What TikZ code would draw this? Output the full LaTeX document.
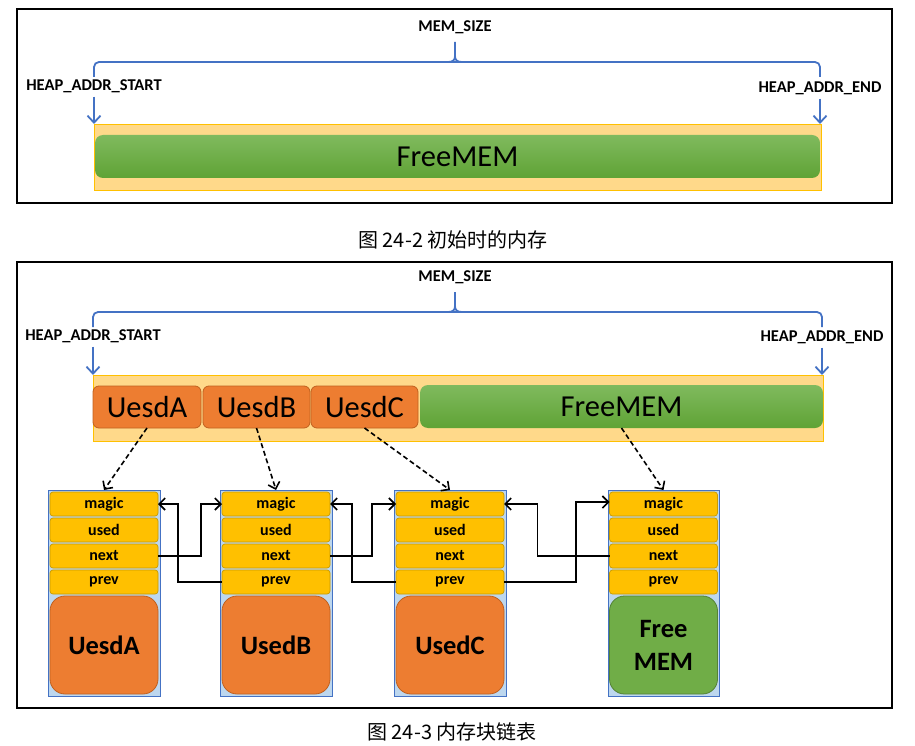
\documentclass[tikz,border=0pt]{standalone}
\usepackage{fontspec}
\setmainfont{Carlito}
\newfontfamily\cjk{Noto Sans CJK SC}
\usetikzlibrary{arrows.meta}
\definecolor{bluel}{HTML}{4472C4}
\definecolor{bandfill}{HTML}{FFD98A}
\definecolor{bandborder}{HTML}{FFC000}
\definecolor{orangef}{HTML}{ED7D31}
\definecolor{oranged}{HTML}{C0611F}
\definecolor{greenf}{HTML}{70AD47}
\definecolor{greentop}{HTML}{80BA5E}
\definecolor{greenbot}{HTML}{5FA335}
\definecolor{greend}{HTML}{548235}
\definecolor{fieldf}{HTML}{FFC000}
\definecolor{fieldd}{HTML}{C89B00}
\definecolor{holderf}{HTML}{BDD7EE}
\begin{document}
\begin{tikzpicture}[x=1pt,y=-1pt,
  every node/.style={inner sep=0pt, outer sep=0pt},
  frame/.style={draw=black, line width=2pt},
  lbl/.style={font=\bfseries\fontsize{16.5}{19}\selectfont},
  bline/.style={draw=bluel, line width=1.8pt},
  barrow/.style={bline, -{Straight Barb[length=7pt,width=13pt]}},
  band/.style={fill=bandfill, draw=bandborder, line width=0.8pt},
  usedtop/.style={fill=orangef, draw=oranged, line width=0.8pt, rounded corners=6pt, minimum height=42pt, font=\fontsize{30.5}{36}\selectfont},
  freetop/.style={top color=greentop, bottom color=greenbot, draw=none, rounded corners=8pt, font=\fontsize{30.5}{36}\selectfont},
  holder/.style={fill=holderf, draw=bluel, line width=0.9pt, minimum width=112pt, minimum height=206pt},
  field/.style={fill=fieldf, draw=fieldd, line width=0.7pt, rounded corners=3pt, minimum width=108pt, minimum height=24pt, font=\bfseries\fontsize{16}{19}\selectfont},
  bigused/.style={fill=orangef, draw=oranged, line width=0.8pt, rounded corners=15pt, minimum width=108pt, minimum height=98pt, align=center, font=\bfseries\fontsize{26.5}{33}\selectfont},
  bigfree/.style={fill=greenf, draw=greend, line width=0.8pt, rounded corners=15pt, minimum width=108pt, minimum height=98pt, align=center, font=\bfseries\fontsize{26.5}{33}\selectfont},
  ptr/.style={draw=black, line width=1.6pt, dash pattern=on 5pt off 3pt, -{Straight Barb[length=6pt,width=12pt]}},
  link/.style={draw=black, line width=1.6pt, -{Straight Barb[length=6pt,width=12pt]}},
  captext/.style={font=\cjk\fontsize{20}{24}\selectfont}
]
\useasboundingbox (0,0) rectangle (915,746);

% ===== Figure 24-2 =====
\node[frame, minimum width=875pt, minimum height=194pt] (fr1) at (454.5,106) {};
\node[lbl] (ms1) at (455,27) {MEM\_SIZE};
\node[lbl] (hs1) at (94,86) {HEAP\_ADDR\_START};
\node[lbl] (he1) at (820,88) {HEAP\_ADDR\_END};
\draw[bline, rounded corners=5pt] (94,77) |- (455,62) -| (820,77);
\draw[bline] (448,62) .. controls (453,62) and (455,60) .. (455,56) -- (455,42);
\draw[bline] (462,62) .. controls (457,62) and (455,60) .. (455,56);
\node[band, minimum width=727pt, minimum height=66pt] (band1) at (457.5,157) {};
\node[freetop, minimum width=725pt, minimum height=43pt] (free1) at (457.5,156.5) {FreeMEM};
\draw[barrow] (hs1.south) ++(0,4) -- (band1.north west);
\draw[barrow] (he1.south) ++(0,4) -- (he1.south |- band1.north);

\node[captext] (c1) at (453,240) {图 24-2 初始时的内存};

% ===== Figure 24-3 =====
\node[frame, minimum width=875pt, minimum height=446pt] (fr2) at (454.5,485) {};
\node[lbl] (ms2) at (455,277) {MEM\_SIZE};
\node[lbl] (hs2) at (93,336) {HEAP\_ADDR\_START};
\node[lbl] (he2) at (822,337) {HEAP\_ADDR\_END};
\draw[bline, rounded corners=5pt] (93,327) |- (455,312) -| (822,327);
\draw[bline] (448,312) .. controls (453,312) and (455,310) .. (455,306) -- (455,292);
\draw[bline] (462,312) .. controls (457,312) and (455,310) .. (455,306);
\node[band, minimum width=730pt, minimum height=66pt] (band2) at (458,408) {};
\node[usedtop, minimum width=108pt] (ua) at (147,407) {UesdA};
\node[usedtop, minimum width=107pt] (ub) at (256.5,407) {UesdB};
\node[usedtop, minimum width=107pt] (uc) at (364.5,407) {UesdC};
\node[freetop, minimum width=403pt, minimum height=43pt] (fm) at (621.5,406.5) {FreeMEM};
\draw[barrow] (hs2.south) ++(0,4) -- (band2.north west);
\draw[barrow] (he2.south) ++(0,4) -- (he2.south |- band2.north);

% block holders
\node[holder] (h1) at (104,593) {};
\node[holder] (h2) at (276,593) {};
\node[holder] (h3) at (450,593) {};
\node[holder, minimum width=111pt] (h4) at (663.5,593) {};

% fields
\foreach \i/\x in {1/104, 2/276, 3/450, 4/663.5} {
  \node[field] (m\i) at (\x,504) {magic};
  \node[field] (u\i) at (\x,530) {used};
  \node[field] (n\i) at (\x,556) {next};
  \node[field] (p\i) at (\x,582) {prev};
}
\node[bigused] (b1) at (104,645) {UesdA};
\node[bigused] (b2) at (276,645) {UsedB};
\node[bigused] (b3) at (450,645) {UsedC};
\node[bigfree] (b4) at (663.5,645) {Free\\MEM};

% pointers from top blocks
\draw[ptr] (ua.south) -- (h1.north);
\draw[ptr] (ub.south) -- (h2.north);
\draw[ptr] (uc.south) -- (h3.north);
\draw[ptr] (fm.south) -- (h4.north);

% links
\draw[link] (n1.east) -- ++(43,0) |- (m2.west);
\draw[link] (p2.west) -- ++(-44,0) |- (m1.east);
\draw[link] (n2.east) -- ++(42,0) |- (m3.west);
\draw[link] (p3.west) -- ++(-44,0) |- (m2.east);
\draw[link] (n4.west) -- ++(-72,0) |- (m3.east);
\draw[link] (p3.east) -- ++(72,0) |- ([yshift=2pt]m4.west);

\node[captext] (c2) at (452,732) {图 24-3 内存块链表};
\end{tikzpicture}
\end{document}
